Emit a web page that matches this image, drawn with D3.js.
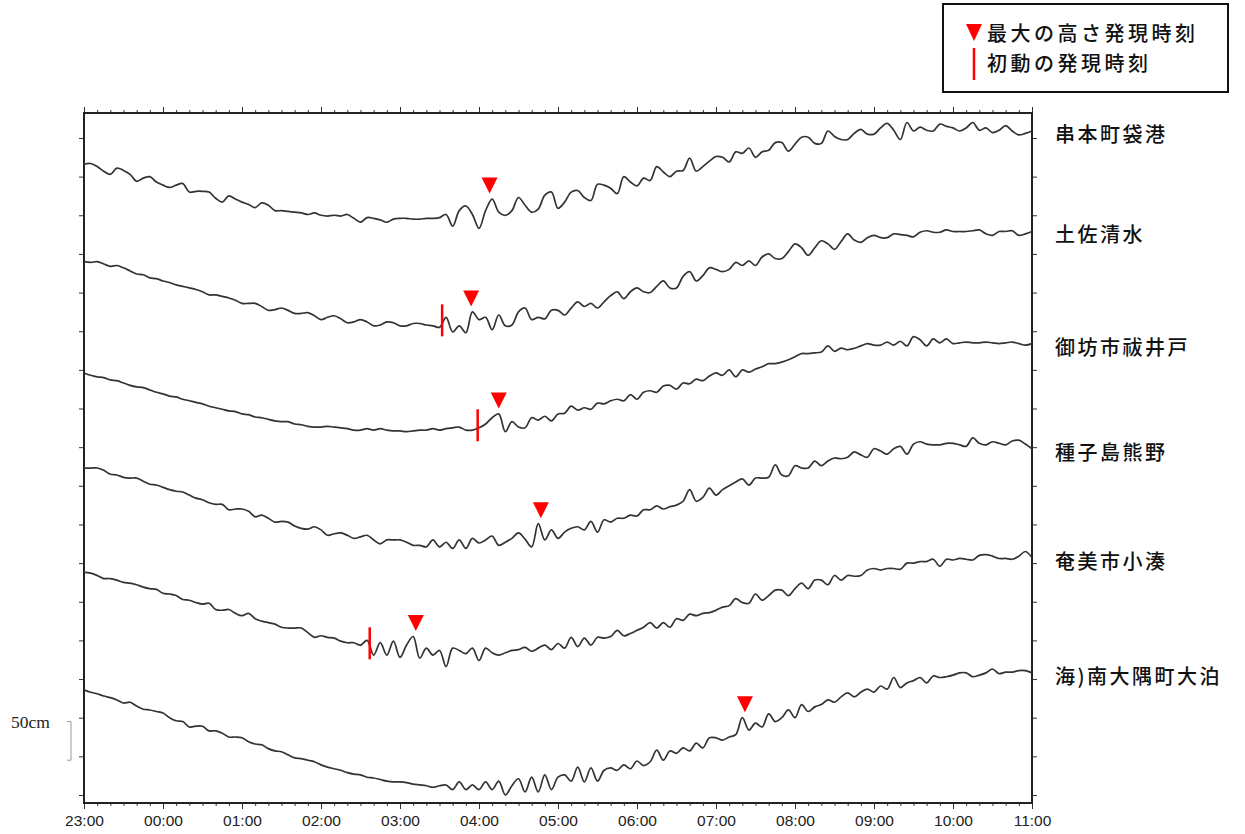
<!DOCTYPE html>
<html lang="ja">
<head>
<meta charset="utf-8">
<title>津波観測波形</title>
<script src="https://cdn.jsdelivr.net/npm/d3@7"></script>
<style>
  html, body { margin: 0; padding: 0; background: #fff; }
  svg { display: block; }
</style>
</head>
<body>
<div id="chart"></div>
<script>
// 観測点（上から順に）
const stations = ["串本町袋港", "土佐清水", "御坊市祓井戸", "種子島熊野", "奄美市小湊", "海)南大隅町大泊"];

// 時刻軸の目盛ラベル（23:00 から 1 時間ごと）
const hourLabels = ["23:00", "00:00", "01:00", "02:00", "03:00", "04:00", "05:00",
                    "06:00", "07:00", "08:00", "09:00", "10:00", "11:00"];

// 各波形は 23:00 から 5 分ごとの潮位（各波形の始点からの差, cm）
const stepMinutes = 5;

const kushimoto = [
  0, 1, -3, -9, -13, -5, -8, -13, -22, -18, -16, -23,
  -27, -30, -27, -25, -36, -35, -35, -36, -44, -49, -41, -45,
  -49, -52, -56, -50, -53, -60, -60, -61, -62, -63, -65, -63,
  -66, -67, -66, -67, -65, -70, -75, -69, -70, -72, -75, -71,
  -70, -70, -71, -71, -70, -70, -69, -65, -80, -60, -54, -65,
  -83, -60, -45, -62, -66, -60, -43, -53, -62, -58, -40, -36,
  -57, -49, -36, -34, -43, -47, -26, -27, -31, -38, -16, -23,
  -28, -18, -21, -3, -10, -16, -9, -8, 8, -9, -3, 4,
  10, 9, 3, 16, 14, 21, 9, 16, 18, 28, 28, 17,
  26, 35, 35, 27, 27, 43, 36, 32, 32, 40, 45, 39,
  39, 47, 53, 44, 32, 54, 43, 48, 44, 43, 52, 49,
  47, 43, 47, 54, 44, 47, 41, 44, 50, 43, 38, 40,
  43
];

const tosashimizu = [
  0, -1, 0, -3, -6, -5, -8, -12, -16, -17, -21, -22,
  -25, -27, -30, -32, -34, -36, -39, -43, -43, -45, -47, -50,
  -54, -54, -54, -58, -63, -62, -60, -63, -67, -67, -66, -70,
  -75, -72, -70, -74, -79, -78, -75, -78, -83, -82, -78, -79,
  -83, -83, -80, -80, -82, -83, -85, -72, -91, -83, -92, -65,
  -75, -72, -88, -69, -83, -82, -65, -60, -75, -72, -74, -63,
  -63, -69, -60, -52, -58, -54, -60, -52, -44, -39, -48, -39,
  -34, -39, -40, -32, -25, -34, -34, -19, -13, -25, -18, -8,
  -10, -13, -10, -1, -5, 1, -5, 6, 10, 4, 4, 13,
  23, 18, 8, 18, 27, 23, 16, 26, 36, 28, 25, 31,
  34, 31, 31, 36, 35, 34, 32, 38, 40, 38, 38, 41,
  39, 39, 39, 40, 41, 36, 34, 39, 39, 40, 34, 36,
  39
];

const gobo = [
  0, -3, -5, -6, -9, -10, -13, -16, -18, -19, -22, -25,
  -27, -30, -31, -34, -36, -38, -40, -43, -45, -47, -49, -50,
  -53, -54, -57, -58, -60, -62, -63, -63, -66, -67, -69, -70,
  -70, -69, -70, -71, -72, -74, -74, -72, -74, -72, -74, -75,
  -75, -76, -75, -74, -74, -72, -74, -72, -71, -70, -74, -74,
  -71, -66, -58, -53, -76, -63, -70, -71, -58, -61, -56, -62,
  -53, -52, -43, -48, -45, -47, -39, -40, -36, -34, -36, -28,
  -34, -25, -23, -25, -17, -16, -21, -13, -14, -8, -10, -4,
  0, -3, 4, -5, 4, 1, 5, 8, 12, 12, 14, 17,
  21, 25, 25, 26, 27, 35, 28, 32, 30, 32, 35, 38,
  36, 36, 40, 36, 41, 35, 47, 43, 35, 44, 39, 44,
  38, 39, 40, 39, 39, 40, 39, 38, 39, 40, 38, 36,
  38
];

const tanegashima = [
  0, 0, 0, -3, -8, -9, -12, -13, -13, -17, -21, -22,
  -25, -28, -30, -31, -35, -39, -41, -45, -47, -47, -54, -53,
  -53, -56, -63, -61, -65, -70, -69, -70, -75, -78, -79, -76,
  -80, -87, -85, -84, -87, -91, -89, -87, -93, -98, -93, -93,
  -93, -96, -100, -100, -102, -93, -102, -96, -104, -93, -104, -91,
  -97, -93, -88, -100, -96, -91, -84, -92, -102, -72, -93, -80,
  -91, -83, -78, -76, -80, -69, -83, -67, -70, -65, -65, -61,
  -62, -54, -54, -49, -53, -50, -48, -43, -28, -43, -38, -26,
  -35, -28, -23, -18, -14, -22, -13, -13, -12, 4, -9, -10,
  3, 0, 0, 9, 3, 9, 13, 12, 14, 21, 17, 14,
  25, 22, 18, 25, 28, 18, 31, 34, 31, 30, 30, 32,
  32, 30, 28, 39, 32, 30, 34, 32, 30, 35, 36, 31,
  25
];

const amami = [
  0, -1, -4, -8, -8, -10, -13, -14, -16, -19, -21, -22,
  -27, -28, -30, -35, -36, -39, -41, -40, -48, -49, -48, -53,
  -56, -53, -60, -63, -65, -67, -71, -72, -72, -72, -78, -84,
  -82, -84, -85, -89, -91, -91, -94, -88, -107, -91, -107, -89,
  -110, -94, -83, -111, -98, -107, -101, -122, -98, -101, -105, -98,
  -114, -98, -104, -107, -104, -101, -100, -97, -102, -98, -94, -100,
  -92, -98, -84, -96, -85, -94, -84, -85, -83, -75, -82, -79,
  -75, -71, -65, -72, -65, -71, -60, -62, -54, -56, -53, -52,
  -49, -45, -43, -34, -39, -40, -28, -36, -30, -23, -23, -30,
  -21, -14, -21, -10, -10, -16, -4, -10, -4, -5, -4, 3,
  5, 3, 5, 5, 4, 12, 12, 14, 14, 17, 8, 17,
  16, 18, 17, 16, 22, 23, 21, 18, 18, 17, 21, 27,
  19
];

const ohosumi = [
  0, -3, -5, -8, -10, -13, -17, -16, -21, -25, -26, -28,
  -30, -36, -40, -41, -48, -47, -47, -53, -53, -56, -61, -61,
  -62, -67, -70, -71, -76, -79, -80, -84, -88, -89, -91, -93,
  -97, -100, -102, -104, -107, -109, -110, -113, -114, -116, -118, -119,
  -119, -120, -122, -123, -124, -126, -124, -123, -129, -119, -129, -123,
  -129, -119, -129, -118, -136, -124, -115, -132, -113, -132, -110, -129,
  -113, -110, -118, -100, -119, -101, -118, -104, -101, -104, -97, -102,
  -92, -98, -93, -78, -91, -79, -82, -75, -79, -69, -75, -62,
  -62, -65, -61, -58, -36, -52, -43, -48, -31, -41, -36, -26,
  -36, -19, -28, -22, -19, -13, -16, -9, -4, -9, -3, 1,
  -3, 5, 1, 16, 3, 9, 12, 16, 9, 18, 16, 17,
  19, 22, 22, 17, 19, 22, 27, 21, 23, 23, 25, 25,
  22
];

const series = [kushimoto, tosashimizu, gobo, tanegashima, amami, ohosumi];

// 各波形の基準位置（縦軸 cm, 重ね描きのためのずらし量）
const baseLevels = [816, 690, 546, 423, 288, 136];

// 最大の高さ発現時刻 と 初動の発現時刻（null は初動なし）
const maxTimes = ["04:08", "03:54", "04:15", "04:47", "03:12", "07:22"];
const firstMotionTimes = [null, "03:32", "03:59", null, "02:37", null];

// スケールバー（cm）
const scaleBar = [45, 95];

const width = 1245, height = 834;
const plot = { left: 84, right: 1032, top: 113, bottom: 803 };

const toMinutes = s => {
  const [h, m] = s.split(":").map(Number);
  return ((h - 23 + 24) % 24) * 60 + m;
};

const x = d3.scaleLinear().domain([0, 720]).range([plot.left, plot.right]);
const y = d3.scaleLinear().domain([-10.35, 882.3]).range([plot.bottom, plot.top]);

const svg = d3.select("#chart")
  .append("svg")
  .attr("width", width)
  .attr("height", height);

// 目盛
const hourTicks = d3.range(0, 721, 60);
const minorTicks = d3.range(0, 721, 10);
const levelTicks = d3.range(0, 851, 50);

function styleAxis(g) {
  g.select(".domain").remove();
  g.selectAll(".tick line").attr("stroke", "#333").attr("stroke-width", 1);
}

svg.append("g")
  .attr("transform", `translate(0,${plot.bottom})`)
  .call(d3.axisBottom(x).tickValues(minorTicks).tickSize(3).tickFormat(""))
  .call(styleAxis);

svg.append("g")
  .attr("transform", `translate(0,${plot.bottom})`)
  .call(d3.axisBottom(x).tickValues(hourTicks).tickSize(6).tickPadding(6)
    .tickFormat((d, i) => hourLabels[i]))
  .call(styleAxis)
  .call(g => g.selectAll("text")
    .attr("fill", "#222")
    .attr("font-family", "'Liberation Sans', Arial, sans-serif")
    .attr("font-size", 15.5));

svg.append("g")
  .attr("transform", `translate(0,${plot.top})`)
  .call(d3.axisTop(x).tickValues(minorTicks).tickSize(3).tickFormat(""))
  .call(styleAxis);

svg.append("g")
  .attr("transform", `translate(0,${plot.top})`)
  .call(d3.axisTop(x).tickValues(hourTicks).tickSize(6).tickFormat(""))
  .call(styleAxis);

svg.append("g")
  .attr("transform", `translate(${plot.left},0)`)
  .call(d3.axisLeft(y).tickValues(levelTicks).tickSize(5).tickFormat(""))
  .call(styleAxis);

svg.append("g")
  .attr("transform", `translate(${plot.right},0)`)
  .call(d3.axisRight(y).tickValues(levelTicks).tickSize(5).tickFormat(""))
  .call(styleAxis);

// 枠
svg.append("rect")
  .attr("x", plot.left)
  .attr("y", plot.top)
  .attr("width", plot.right - plot.left)
  .attr("height", plot.bottom - plot.top)
  .attr("fill", "none")
  .attr("stroke", "#222")
  .attr("stroke-width", 2);

// 波形
const line = d3.line()
  .x((d, i) => x(i * stepMinutes))
  .y(d => d)
  .curve(d3.curveCatmullRom.alpha(0.5));

const valueAt = (values, t) => {
  const f = t / stepMinutes;
  const i = Math.min(Math.floor(f), values.length - 2);
  return values[i] + (values[i + 1] - values[i]) * (f - i);
};

const traces = svg.append("g").attr("class", "traces");

series.forEach((values, k) => {
  const base = baseLevels[k];
  traces.append("path")
    .attr("d", line(values.map(v => y(base + v))))
    .attr("fill", "none")
    .attr("stroke", "#333")
    .attr("stroke-width", 1.7)
    .attr("stroke-linejoin", "round");

  // 観測点名
  svg.append("text")
    .attr("x", 1055)
    .attr("y", y(base + values[values.length - 1]))
    .attr("dy", "0.55em")
    .attr("font-family", "'Noto Sans CJK JP', sans-serif")
    .attr("font-size", 20)
    .attr("font-weight", 500)
    .attr("letter-spacing", 2.5)
    .attr("fill", "#111")
    .text(stations[k]);

  // 最大の高さ
  const tMax = toMinutes(maxTimes[k]);
  const idx = Math.round(tMax / stepMinutes);
  const peak = d3.max(values.slice(Math.max(idx - 1, 0), idx + 2));
  const apex = y(base + peak) - 5.5;
  svg.append("path")
    .attr("d", `M${x(tMax) - 8},${apex - 16} L${x(tMax) + 8},${apex - 16} L${x(tMax)},${apex} Z`)
    .attr("fill", "#ff0000");

  // 初動
  if (firstMotionTimes[k]) {
    const t0 = toMinutes(firstMotionTimes[k]);
    const yy = y(base + valueAt(values, t0));
    svg.append("line")
      .attr("x1", x(t0)).attr("x2", x(t0))
      .attr("y1", yy - 19).attr("y2", yy + 13)
      .attr("stroke", "#ff0000")
      .attr("stroke-width", 2.5);
  }
});

// スケールバー 50cm
svg.append("path")
  .attr("d", `M67,${y(scaleBar[1])} H71 V${y(scaleBar[0])} H67`)
  .attr("fill", "none")
  .attr("stroke", "#999")
  .attr("stroke-width", 1);

svg.append("text")
  .attr("x", 11)
  .attr("y", 728)
  .attr("font-family", "'Liberation Serif', 'Times New Roman', serif")
  .attr("font-size", 17.5)
  .attr("fill", "#222")
  .text(`${scaleBar[1] - scaleBar[0]}cm`);

// 凡例
const legend = svg.append("g");
legend.append("rect")
  .attr("x", 943).attr("y", 4)
  .attr("width", 285).attr("height", 88)
  .attr("fill", "#fff")
  .attr("stroke", "#111")
  .attr("stroke-width", 2);

legend.append("path")
  .attr("d", "M966,24 L982,24 L974,41 Z")
  .attr("fill", "#ff0000");

legend.append("line")
  .attr("x1", 974).attr("x2", 974)
  .attr("y1", 48).attr("y2", 80)
  .attr("stroke", "#ff0000")
  .attr("stroke-width", 2.5);

const legendLabels = ["最大の高さ発現時刻", "初動の発現時刻"];
legend.selectAll("text.item")
  .data(legendLabels)
  .join("text")
  .attr("class", "item")
  .attr("x", 987)
  .attr("y", (d, i) => 41 + i * 30)
  .attr("font-family", "'Noto Sans CJK JP', sans-serif")
  .attr("font-size", 20)
  .attr("font-weight", 500)
  .attr("letter-spacing", 3.5)
  .attr("fill", "#111")
  .text(d => d);
</script>
</body>
</html>
